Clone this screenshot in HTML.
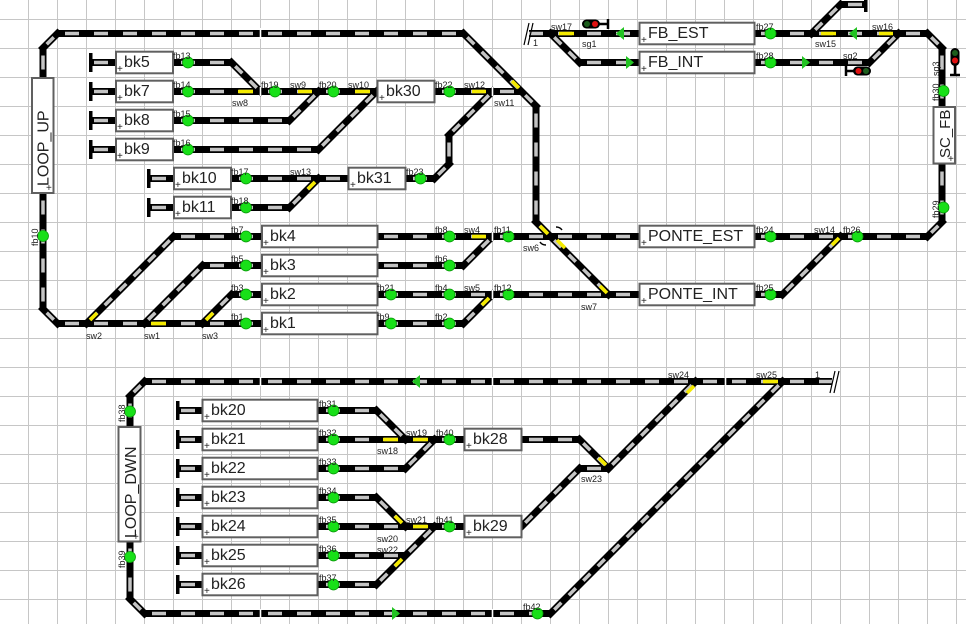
<!DOCTYPE html>
<html><head><meta charset="utf-8"><style>
html,body{margin:0;padding:0;background:#fff}
svg{display:block}
text{font-family:"Liberation Sans",sans-serif;fill:#222}
.l{font-size:9px}
.b{font-size:16px}
.p{font-size:10px}
.box{fill:#fff;stroke:#606060;stroke-width:2}
.dot{fill:#18e018;stroke:#0a9a0a;stroke-width:.8}
.y{stroke:#f4ea00;stroke-width:3.6;fill:none}
</style></head><body>
<svg width="966" height="624" viewBox="0 0 966 624" xmlns="http://www.w3.org/2000/svg">
<defs>
<g id="H" fill="none">
<path d="M57.5 33.5H463.5"/>
<path d="M43 48V309"/>
<path d="M57.5 323.5H463.5"/>
<path d="M90 62.5H231.5"/>
<path d="M90 91.5H521.5"/>
<path d="M90 120.5H289.5"/>
<path d="M90 149.5H318.5"/>
<path d="M148 178.5H434.5"/>
<path d="M148 207.5H289.5"/>
<path d="M173.5 236.5H927.5"/>
<path d="M202.5 265.5H463.5"/>
<path d="M231.5 294.5H782.5"/>
<path d="M536 106V222"/>
<path d="M449 135V164"/>
<path d="M942 48V222"/>
<path d="M579.5 62.5H869.5"/>
<path d="M840.5 4.5H866"/>
<path d="M144.5 381.5H832"/>
<path d="M130 396V599"/>
<path d="M144.5 613.5H550.5"/>
<path d="M177 410.5H376.5"/>
<path d="M177 439.5H579.5"/>
<path d="M177 468.5H405.5"/>
<path d="M579.5 468.5H608.5"/>
<path d="M177 497.5H376.5"/>
<path d="M177 526.5H521.5"/>
<path d="M177 555.5H405.5"/>
<path d="M177 584.5H376.5"/>
<path d="M550.5 33.5H927.5"/>
</g>
<g id="D" fill="none">
<path d="M43 48L57.5 33.5"/>
<path d="M43 309L57.5 323.5"/>
<path d="M927.5 33.5L942 48"/>
<path d="M942 222L927.5 236.5"/>
<path d="M130 396L144.5 381.5"/>
<path d="M130 599L144.5 613.5"/>
<path d="M463.5 33.5L536 106"/>
<path d="M536 222L608.5 294.5"/>
<path d="M231.5 62.5L260.5 91.5"/>
<path d="M318.5 91.5L289.5 120.5"/>
<path d="M376.5 91.5L318.5 149.5"/>
<path d="M492.5 91.5L449 135"/>
<path d="M449 164L434.5 178.5"/>
<path d="M318.5 178.5L289.5 207.5"/>
<path d="M86.5 323.5L173.5 236.5"/>
<path d="M144.5 323.5L202.5 265.5"/>
<path d="M202.5 323.5L231.5 294.5"/>
<path d="M492.5 236.5L463.5 265.5"/>
<path d="M492.5 294.5L463.5 323.5"/>
<path d="M782.5 294.5L840.5 236.5"/>
<path d="M550.5 33.5L579.5 62.5"/>
<path d="M811.5 33.5L840.5 4.5"/>
<path d="M898.5 33.5L869.5 62.5"/>
<path d="M376.5 410.5L405.5 439.5"/>
<path d="M405.5 468.5L434.5 439.5"/>
<path d="M376.5 497.5L405.5 526.5"/>
<path d="M434.5 526.5L376.5 584.5"/>
<path d="M579.5 439.5L608.5 468.5"/>
<path d="M579.5 468.5L521.5 526.5"/>
<path d="M695.5 381.5L608.5 468.5"/>
<path d="M782.5 381.5L550.5 613.5"/>
</g>
</defs>
<rect width="966" height="624" fill="#fff"/>
<g stroke="#c6c6c6" stroke-width="1">
<path d="M28.5 0V624M57.5 0V624M86.5 0V624M115.5 0V624M144.5 0V624M173.5 0V624M202.5 0V624M231.5 0V624M260.5 0V624M289.5 0V624M318.5 0V624M347.5 0V624M376.5 0V624M405.5 0V624M434.5 0V624M463.5 0V624M492.5 0V624M521.5 0V624M550.5 0V624M579.5 0V624M608.5 0V624M637.5 0V624M666.5 0V624M695.5 0V624M724.5 0V624M753.5 0V624M782.5 0V624M811.5 0V624M840.5 0V624M869.5 0V624M898.5 0V624M927.5 0V624M956.5 0V624"/>
<path d="M0 19.5H966M0 48.5H966M0 77.5H966M0 106.5H966M0 135.5H966M0 164.5H966M0 193.5H966M0 222.5H966M0 251.5H966M0 280.5H966M0 309.5H966M0 338.5H966M0 367.5H966M0 396.5H966M0 425.5H966M0 454.5H966M0 483.5H966M0 512.5H966M0 541.5H966M0 570.5H966M0 599.5H966"/>
</g>
<use href="#H" stroke="#000" stroke-width="7"/>
<use href="#D" stroke="#000" stroke-width="7" stroke-linecap="square"/>
<path d="M529 33.5H550.5" stroke="#000" stroke-width="7"/>
<g fill="none" stroke="#c4c4c4" stroke-width="3.5">
<path d="M57.5 33.5H463.5M43 48V309M57.5 323.5H463.5M173.5 236.5H927.5M202.5 265.5H463.5M231.5 294.5H782.5M536 106V222M449 135V164M942 48V222M579.5 62.5H869.5M840.5 4.5H866M144.5 381.5H832M130 396V599M144.5 613.5H550.5M579.5 468.5H608.5M550.5 33.5H927.5" stroke-dasharray="0 7.5 14 7.5"/>
<path d="M86.5 62.5H231.5M86.5 91.5H521.5M86.5 120.5H289.5M86.5 149.5H318.5M144.5 178.5H434.5M144.5 207.5H289.5M173.5 410.5H376.5M173.5 439.5H579.5M173.5 468.5H405.5M173.5 497.5H376.5M173.5 526.5H521.5M173.5 555.5H405.5M173.5 584.5H376.5" stroke-dasharray="0 7.5 14 7.5"/>
</g>
<use href="#D" stroke="#c4c4c4" stroke-width="3.5" stroke-dasharray="0 5.25 10 5.25"/>
<path d="M529 33.5H550.5" stroke="#c4c4c4" stroke-width="3.5" stroke-dasharray="14 15"/>
<g stroke="#fff" stroke-width="1.6">
<path d="M260.5 28V39M260.5 87V96M492.5 87V96M492.5 232V241M492.5 290V299M260.5 377V386M492.5 377V386M725.5 377V386M260.5 609V618M492.5 609V618"/>
</g>
<g class="y">
<path d="M238 91.5H253M298 91.5H312M355 91.5H370M472 91.5H486"/>
<path d="M512 81L519 88"/>
<path d="M308 189L315 182"/>
<path d="M90 320L97 313"/>
<path d="M151 323.5H166"/>
<path d="M206 320L213 313"/>
<path d="M472 236.5H486"/>
<path d="M482 305L489 298"/>
<path d="M540 226L548 234M557 240L565 248"/>
<path d="M600 286L607 293"/>
<path d="M832 245L839 238"/>
<path d="M559 33.5H574M821 33.5H836M879 33.5H893"/>
<path d="M383 439.5H398M413 439.5H428M413 526.5H428"/>
<path d="M395 516L402 523"/>
<path d="M395 566L402 559"/>
<path d="M599 458L606 465"/>
<path d="M687 393L694 386"/>
<path d="M763 381.5H778"/>
</g>
<path d="M556 227q4 0 6 3M546 245q-4 0 -6-3" stroke="#000" stroke-width="1.5" fill="none"/>
<g fill="#000">
<rect x="89" y="53" width="3.5" height="19"/><rect x="89" y="82" width="3.5" height="19"/>
<rect x="89" y="111" width="3.5" height="19"/><rect x="89" y="140" width="3.5" height="19"/>
<rect x="147" y="169" width="3.5" height="19"/><rect x="147" y="198" width="3.5" height="19"/>
<rect x="176" y="401" width="3.5" height="19"/><rect x="176" y="430" width="3.5" height="19"/>
<rect x="176" y="459" width="3.5" height="19"/><rect x="176" y="488" width="3.5" height="19"/>
<rect x="176" y="517" width="3.5" height="19"/><rect x="176" y="546" width="3.5" height="19"/>
<rect x="176" y="575" width="3.5" height="19"/>
<rect x="864" y="0" width="3.5" height="12"/>
</g>
<g stroke="#000" stroke-width="1.2">
<path d="M524 45L529 23M528 45L533 23"/>
<path d="M830 393L835 371M834 393L839 371"/>
</g>
<g class="box">
<rect x="32" y="78" width="21.5" height="115"/>
<rect x="116" y="51.7" width="57" height="21.6"/>
<rect x="116" y="80.7" width="57" height="21.6"/>
<rect x="116" y="109.7" width="57" height="21.6"/>
<rect x="116" y="138.7" width="57" height="21.6"/>
<rect x="174" y="167.7" width="57" height="21.6"/>
<rect x="174" y="196.7" width="57" height="21.6"/>
<rect x="377.5" y="80.7" width="57" height="21.6"/>
<rect x="348.5" y="167.7" width="57" height="21.6"/>
<rect x="262" y="225.7" width="115.5" height="21.6"/>
<rect x="262" y="254.7" width="115.5" height="21.6"/>
<rect x="262" y="283.7" width="115.5" height="21.6"/>
<rect x="262" y="312.7" width="115.5" height="21.6"/>
<rect x="639.5" y="22.7" width="115" height="21.6"/>
<rect x="639.5" y="51.7" width="115" height="21.6"/>
<rect x="639.5" y="225.7" width="115" height="21.6"/>
<rect x="639.5" y="283.7" width="115" height="21.6"/>
<rect x="933.5" y="107" width="21.5" height="56.5"/>
<rect x="118.5" y="427" width="22" height="114.5"/>
<rect x="202.5" y="399.7" width="115" height="21.6"/>
<rect x="202.5" y="428.7" width="115" height="21.6"/>
<rect x="202.5" y="457.7" width="115" height="21.6"/>
<rect x="202.5" y="486.7" width="115" height="21.6"/>
<rect x="202.5" y="515.7" width="115" height="21.6"/>
<rect x="202.5" y="544.7" width="115" height="21.6"/>
<rect x="202.5" y="573.7" width="115" height="21.6"/>
<rect x="464.5" y="428.7" width="57" height="21.6"/>
<rect x="464.5" y="515.7" width="57" height="21.6"/>
</g>
<g class="b">
<text x="124" y="67">bk5</text><text x="124" y="96">bk7</text><text x="124" y="125">bk8</text><text x="124" y="154">bk9</text>
<text x="182" y="183">bk10</text><text x="182" y="212">bk11</text>
<text x="386" y="96">bk30</text><text x="357" y="183">bk31</text>
<text x="270" y="241">bk4</text><text x="270" y="270">bk3</text><text x="270" y="299">bk2</text><text x="270" y="328">bk1</text>
<text x="648" y="38">FB_EST</text><text x="648" y="67">FB_INT</text>
<text x="648" y="241">PONTE_EST</text><text x="648" y="299">PONTE_INT</text>
<text x="211" y="415">bk20</text><text x="211" y="444">bk21</text><text x="211" y="473">bk22</text><text x="211" y="502">bk23</text>
<text x="211" y="531">bk24</text><text x="211" y="560">bk25</text><text x="211" y="589">bk26</text>
<text x="473" y="444">bk28</text><text x="473" y="531">bk29</text>
<text transform="translate(48.5 186) rotate(-90)">LOOP_UP</text>
<text transform="translate(950 158) rotate(-90)" style="font-size:15px">SC_FB</text>
<text transform="translate(136 538) rotate(-90)">LOOP_DWN</text>
</g>
<g class="p">
<text x="117" y="72">+</text><text x="117" y="101">+</text><text x="117" y="130">+</text><text x="117" y="159">+</text>
<text x="175" y="188">+</text><text x="175" y="217">+</text><text x="379" y="101">+</text><text x="350" y="188">+</text>
<text x="263" y="246">+</text><text x="263" y="275">+</text><text x="263" y="304">+</text><text x="263" y="333">+</text>
<text x="641" y="43">+</text><text x="641" y="72">+</text><text x="641" y="246">+</text><text x="641" y="304">+</text>
<text x="204" y="420">+</text><text x="204" y="449">+</text><text x="204" y="478">+</text><text x="204" y="507">+</text>
<text x="204" y="536">+</text><text x="204" y="565">+</text><text x="204" y="594">+</text>
<text x="466" y="449">+</text><text x="466" y="536">+</text>
<text x="46" y="191">+</text><text x="948" y="162">+</text><text x="133" y="540">+</text>
</g>
<g class="dot">
<circle cx="188" cy="62.5" r="5.5"/><circle cx="188" cy="91.5" r="5.5"/><circle cx="188" cy="120.5" r="5.5"/><circle cx="188" cy="149.5" r="5.5"/>
<circle cx="275" cy="91.5" r="5.5"/><circle cx="333.5" cy="91.5" r="5.5"/><circle cx="449.5" cy="91.5" r="5.5"/>
<circle cx="246" cy="178.5" r="5.5"/><circle cx="420.5" cy="178.5" r="5.5"/><circle cx="246" cy="207.5" r="5.5"/>
<circle cx="246" cy="236.5" r="5.5"/><circle cx="246" cy="265.5" r="5.5"/><circle cx="246" cy="294.5" r="5.5"/><circle cx="246" cy="323.5" r="5.5"/>
<circle cx="43" cy="236" r="5.5"/>
<circle cx="449.5" cy="236.5" r="5.5"/><circle cx="449.5" cy="265.5" r="5.5"/><circle cx="391" cy="294.5" r="5.5"/><circle cx="449.5" cy="294.5" r="5.5"/>
<circle cx="391" cy="323.5" r="5.5"/><circle cx="449.5" cy="323.5" r="5.5"/>
<circle cx="508.5" cy="236.5" r="5.5"/><circle cx="508.5" cy="294.5" r="5.5"/>
<circle cx="770.5" cy="236.5" r="5.5"/><circle cx="857.5" cy="236.5" r="5.5"/><circle cx="770.5" cy="294.5" r="5.5"/>
<circle cx="770.5" cy="33.5" r="5.5"/><circle cx="770.5" cy="62.5" r="5.5"/>
<circle cx="943.5" cy="91" r="5.5"/><circle cx="943.5" cy="207.5" r="5.5"/>
<circle cx="130" cy="411.5" r="5.5"/><circle cx="130" cy="557" r="5.5"/>
<circle cx="333.5" cy="410.5" r="5.5"/><circle cx="333.5" cy="439.5" r="5.5"/><circle cx="333.5" cy="468.5" r="5.5"/><circle cx="333.5" cy="497.5" r="5.5"/>
<circle cx="333.5" cy="526.5" r="5.5"/><circle cx="333.5" cy="555.5" r="5.5"/><circle cx="333.5" cy="584.5" r="5.5"/>
<circle cx="449.5" cy="439.5" r="5.5"/><circle cx="449.5" cy="526.5" r="5.5"/><circle cx="537.5" cy="613.5" r="5.5"/>
</g>
<g fill="#22c322">
<polygon points="616,33.5 624,27 624,40"/>
<polygon points="634,62.5 626,56 626,69"/>
<polygon points="849,33.5 857,27 857,40"/>
<polygon points="810,62.5 802,56 802,69"/>
<polygon points="412,381.5 420,375 420,388"/>
<polygon points="400,613.5 392,607 392,620"/>
</g>
<g>
<path d="M598 24H608M608 19V29" stroke="#000" stroke-width="2.5"/>
<rect x="582" y="19.5" width="18" height="9" rx="4.5" fill="#000"/>
<circle cx="587" cy="24" r="3" fill="#1d5e1d"/><circle cx="595" cy="24" r="3" fill="#e01010"/>
<path d="M846 66V76M846 71H856" stroke="#000" stroke-width="2.5"/>
<rect x="853" y="66.5" width="18" height="9" rx="4.5" fill="#000"/>
<circle cx="858.5" cy="71" r="3" fill="#e01010"/><circle cx="866" cy="71" r="3" fill="#1d5e1d"/>
<path d="M955 62V75M950 75H960" stroke="#000" stroke-width="2.5"/>
<rect x="950.5" y="48" width="9" height="18" rx="4.5" fill="#000"/>
<circle cx="955" cy="53" r="3" fill="#1d5e1d"/><circle cx="955" cy="60.5" r="3" fill="#e01010"/>
</g>
<g class="l">
<text x="173" y="59">fb13</text><text x="173" y="88">fb14</text><text x="173" y="117">fb15</text><text x="173" y="146">fb16</text>
<text x="231" y="175">fb17</text><text x="231" y="204">fb18</text>
<text x="261" y="88">fb19</text><text x="290" y="88">sw9</text><text x="319" y="88">fb20</text><text x="348" y="88">sw10</text>
<text x="232" y="106">sw8</text>
<text x="435" y="88">fb22</text><text x="464" y="88">sw12</text><text x="494" y="106">sw11</text>
<text x="290" y="175">sw13</text><text x="406" y="175">fb23</text>
<text x="231" y="233">fb7</text><text x="231" y="262">fb5</text><text x="231" y="291">fb3</text><text x="231" y="320">fb1</text>
<text x="86" y="339">sw2</text><text x="144" y="339">sw1</text><text x="202" y="339">sw3</text>
<text x="435" y="233">fb8</text><text x="464" y="233">sw4</text><text x="494" y="233">fb11</text><text x="523" y="251">sw6</text>
<text x="435" y="262">fb6</text>
<text x="377" y="291">fb21</text><text x="435" y="291">fb4</text><text x="464" y="291">sw5</text><text x="494" y="291">fb12</text>
<text x="377" y="320">fb9</text><text x="435" y="320">fb2</text><text x="581" y="310">sw7</text>
<text x="756" y="233">fb24</text><text x="814" y="233">sw14</text><text x="843" y="233">fb26</text><text x="756" y="291">fb25</text>
<text x="756" y="30">fb27</text><text x="756" y="59">fb28</text><text x="815" y="47">sw15</text><text x="872" y="30">sw16</text><text x="843" y="59">sg2</text>
<text x="551" y="30">sw17</text><text x="582" y="47">sg1</text><text x="533" y="46">1</text>
<text transform="translate(38 246) rotate(-90)">fb10</text>
<text transform="translate(939 76) rotate(-90)">sq3</text>
<text transform="translate(939 101) rotate(-90)">fb30</text>
<text transform="translate(939 218) rotate(-90)">fb29</text>
<text transform="translate(125 422) rotate(-90)">fb38</text>
<text transform="translate(125 568) rotate(-90)">fb39</text>
<text x="319" y="407">fb31</text><text x="319" y="436">fb32</text><text x="319" y="465">fb33</text><text x="319" y="494">fb34</text>
<text x="319" y="523">fb35</text><text x="319" y="552">fb36</text><text x="319" y="581">fb37</text>
<text x="406" y="436">sw19</text><text x="436" y="436">fb40</text><text x="377" y="454">sw18</text>
<text x="406" y="523">sw21</text><text x="436" y="523">fb41</text><text x="377" y="542">sw20</text><text x="377" y="553">sw22</text>
<text x="581" y="482">sw23</text><text x="668" y="378">sw24</text><text x="756" y="378">sw25</text><text x="815" y="378">1</text>
<text x="523" y="610">fb42</text>
</g>
</svg>
</body></html>
